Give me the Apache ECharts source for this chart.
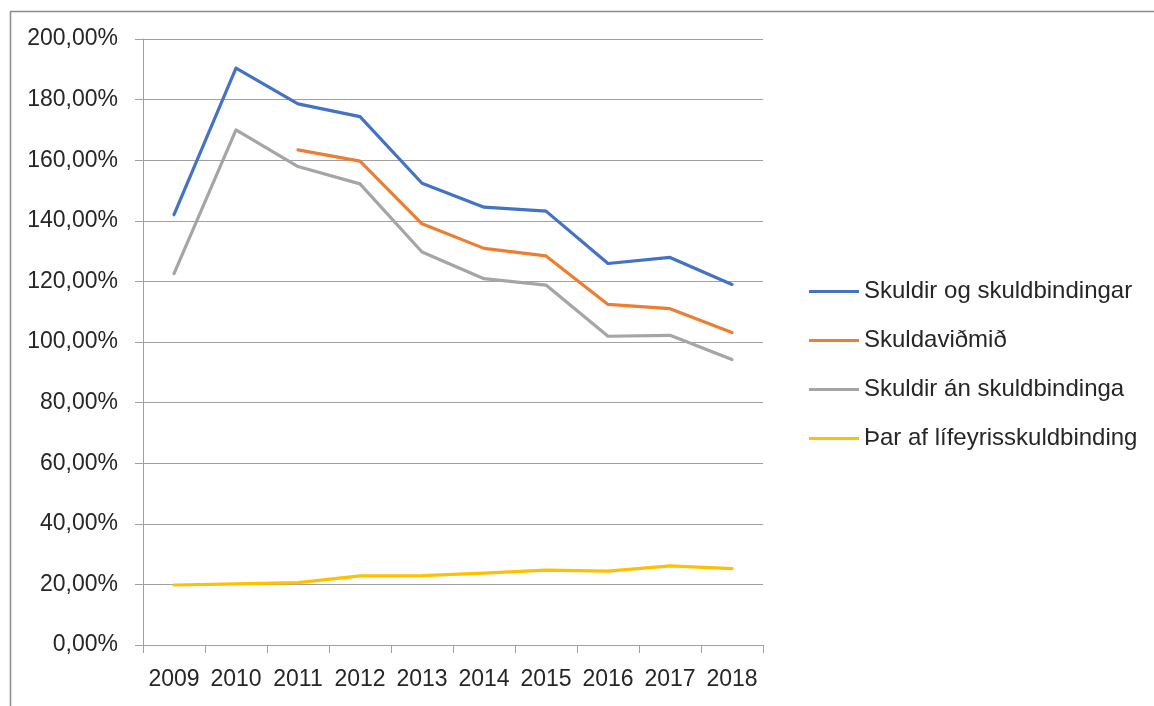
<!DOCTYPE html>
<html>
<head>
<meta charset="utf-8">
<script src="https://cdn.jsdelivr.net/npm/echarts@6/dist/echarts.min.js"></script>
<style>
html,body{margin:0;padding:0;background:#fff;}
#c{width:1154px;height:706px;}
</style>
</head>
<body>
<div id="c"></div>
<script>
const years = ['2009','2010','2011','2012','2013','2014','2015','2016','2017','2018'];
const skuldirOgSkuldbindingar = [142.0, 190.4, 178.6, 174.4, 152.4, 144.5, 143.2, 125.9, 127.9, 119.0];
const skuldavidmid = [null, null, 163.4, 159.7, 139.0, 130.9, 128.4, 112.4, 111.0, 103.1];
const skuldirAnSkuldbindinga = [122.6, 170.0, 157.9, 152.2, 129.7, 120.9, 118.8, 101.9, 102.2, 94.2];
const lifeyrisskuldbinding = [19.8, 20.2, 20.6, 22.8, 22.9, 23.7, 24.7, 24.4, 26.1, 25.2];
const seriesNames = ['Skuldir og skuldbindingar', 'Skuldaviðmið', 'Skuldir án skuldbindinga', 'Þar af lífeyrisskuldbinding'];
const colors = ['#4472C4', '#ED7D31', '#A5A5A5', '#FFC000'];

const font = 'Liberation Sans, Arial, sans-serif';
const chart = echarts.init(document.getElementById('c'), null, {renderer: 'canvas'});
const mk = (i, data) => ({
  name: seriesNames[i], type: 'line', data: data, symbol: 'none', connectNulls: false,
  lineStyle: {color: colors[i], width: 3.2, cap: 'round', join: 'round'},
  itemStyle: {color: colors[i]}
});
chart.setOption({
  animation: false,
  backgroundColor: '#fff',
  graphic: [{
    type: 'rect', left: 8, top: 9, z: -1,
    shape: {width: 1300, height: 900},
    style: {fill: 'none', stroke: '#8c8c8c', lineWidth: 1.5}
  }],
  grid: {left: 143, right: 391, top: 39, bottom: 61},
  legend: {
    orient: 'vertical', left: 804, top: 273,
    itemWidth: 50, itemHeight: 14, itemGap: 22,
    textStyle: {fontFamily: font, fontSize: 24, color: '#262626', lineHeight: 27},
    data: seriesNames.map((n, i) => ({name: n, icon: 'path://M0,6 L50,6 L50,9 L0,9 Z', itemStyle: {color: colors[i]}}))
  },
  xAxis: {
    type: 'category', data: years, boundaryGap: true,
    axisLine: {show: true, lineStyle: {color: '#a0a0a0', width: 1}},
    axisTick: {show: true, length: 8, interval: 0, lineStyle: {color: '#a0a0a0'}},
    axisLabel: {fontFamily: font, fontSize: 23, color: '#262626', margin: 23, interval: 0}
  },
  yAxis: {
    type: 'value', min: 0, max: 200, interval: 20,
    axisLine: {show: true, lineStyle: {color: '#a0a0a0', width: 1}},
    axisTick: {show: true, length: 8, lineStyle: {color: '#a0a0a0'}},
    splitLine: {show: true, lineStyle: {color: '#a0a0a0', width: 1}},
    axisLabel: {
      fontFamily: font, fontSize: 23, color: '#262626', margin: 25,
      formatter: v => v.toFixed(2).replace('.', ',') + '%'
    }
  },
  series: [
    mk(0, skuldirOgSkuldbindingar),
    mk(1, skuldavidmid),
    mk(2, skuldirAnSkuldbindinga),
    mk(3, lifeyrisskuldbinding)
  ]
});
</script>
</body>
</html>
